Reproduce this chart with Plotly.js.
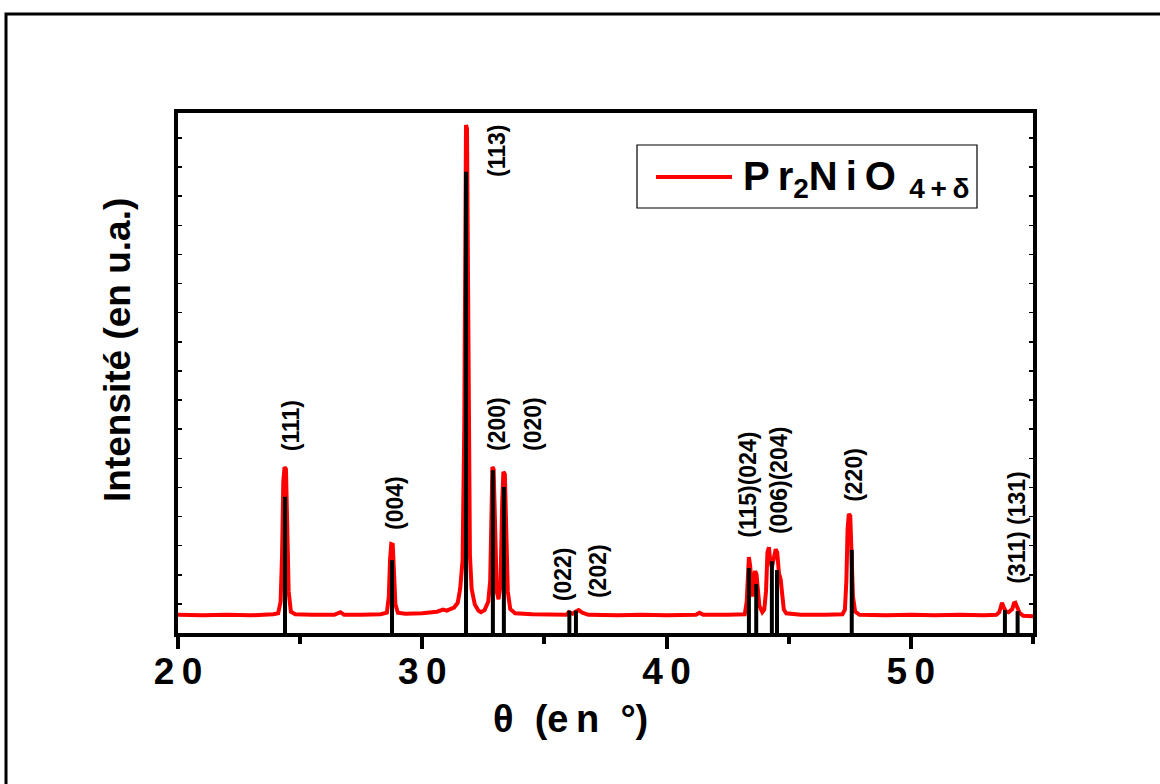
<!DOCTYPE html>
<html>
<head>
<meta charset="utf-8">
<script src="https://cdn.plot.ly/plotly-3.0.1.min.js"></script>
<style>html,body{margin:0;padding:0;background:#fff;}#chart{width:1160px;height:784px;}</style>
</head>
<body>
<div id="chart"></div>
<script>
const twoTheta = [20.0,21.0,22.0,23.0,23.9,
  24.1,24.2,24.26,24.31,24.36,24.42,24.47,24.53,24.62,24.8,
  25.5,26.4,26.65,26.8,27.5,28.3,
  28.55,28.63,28.68,28.73,28.79,28.84,28.9,29.0,29.3,
  30.0,30.6,30.85,31.0,31.3,31.45,31.55,31.65,31.72,31.76,31.79,31.83,31.86,31.9,31.95,32.02,32.15,32.3,32.4,32.55,32.7,
  32.78,32.83,32.87,32.92,32.97,33.05,33.12,33.2,33.27,33.32,33.38,33.43,33.5,33.6,33.8,
  34.5,35.5,35.9,36.0,36.15,36.3,36.4,36.55,36.8,
  38.0,39.0,40.0,41.2,41.35,41.5,42.5,43.2,
  43.28,43.33,43.37,43.42,43.48,43.52,43.58,43.63,43.68,43.73,43.8,43.92,44.0,
  44.07,44.13,44.19,44.24,44.31,44.4,44.47,44.53,44.6,44.67,44.72,44.8,44.9,
  45.5,46.5,47.2,47.3,47.36,47.41,47.46,47.52,47.57,47.63,47.72,47.9,
  49.0,50.0,51.0,52.0,53.0,53.5,
  53.62,53.68,53.73,53.8,53.88,54.0,54.15,54.22,54.28,54.35,54.45,54.6,55.0];
const intensity = [3.5,3.4,3.5,3.4,3.6,
  3.8,6.0,15.0,29.0,31.9,31.5,22.0,8.0,4.1,3.6,
  3.5,3.5,4.0,3.5,3.5,3.6,
  3.9,7.0,14.0,17.1,17.0,12.0,5.5,3.9,3.7,
  3.8,4.1,4.5,4.3,4.9,5.8,8.5,14.0,40.0,85.0,97.7,97.0,80.0,35.0,15.0,8.5,5.5,4.3,4.0,4.4,6.0,
  10.0,26.0,31.9,31.5,22.0,8.0,6.5,9.0,25.0,31.0,30.5,22.0,8.0,4.6,3.8,
  3.6,3.5,3.5,4.0,3.7,4.2,4.4,3.9,3.5,
  3.4,3.5,3.4,3.5,3.9,3.5,3.5,3.6,
  6.0,13.0,14.6,13.0,7.5,7.0,11.0,11.9,11.3,8.0,5.2,4.0,4.5,
  8.0,15.5,16.5,14.0,12.7,15.0,16.1,15.5,11.5,10.3,7.5,4.5,3.8,
  3.5,3.5,3.6,4.5,10.0,20.0,22.9,22.5,16.0,7.0,4.1,3.5,
  3.4,3.5,3.4,3.5,3.4,3.5,
  4.0,5.5,5.8,5.0,4.2,4.0,4.6,5.7,5.8,5.0,3.9,3.3,3.2];

// Reference reflections (black sticks)
const refPos    = [24.38,28.76,31.79,32.89,33.34,36.02,36.29,43.37,43.67,44.31,44.52,47.58,53.85,54.37];
const refHeight = [26.2,14.0,88.7,31.3,28.1,4.3,4.3,12.5,9.4,13.8,12.1,16.0,4.4,4.2];

// Miller index labels
const hklText = ['(111)','(004)','(113)','(200)','(020)','(022)','(202)','(115)(024)','(006)(204)','(220)','(311) (131)'];
const hklX    = [24.63,28.88,33.06,33.06,34.53,35.76,37.19,43.33,44.60,47.67,54.34];
const hklY    = [39.8,25.0,92.7,40.2,40.2,11.3,11.9,28.5,29.4,30.4,20.4];

// Axis ticks
const xTickVals = [20,30,40,50];
const xTickText = ['2\u20090','3\u20090','4\u20090','5\u20090'];

const seriesName = 'Pr<sub>2</sub>NiO<sub>4+δ</sub>';

const stickX = [], stickY = [];
refPos.forEach((p,i)=>{ stickX.push(p,p,null); stickY.push(0,refHeight[i],null); });

const FONT = 'Arial, "Liberation Sans", Helvetica, sans-serif';

const traces = [
  {x: twoTheta, y: intensity, type:'scatter', mode:'lines', name: seriesName,
   line:{color:'#ff0000', width:4}, showlegend:false, hoverinfo:'x+y'},
  {x: stickX, y: stickY, type:'scatter', mode:'lines', name:'référence',
   line:{color:'#000000', width:4}, showlegend:false, hoverinfo:'skip'}
];

const L=178, R=1033, T=113, B=633;
const px = v => (v-L)/(R-L);
const py = v => (B-v)/(B-T);

const annotations = hklText.map((t,i)=>({
  text:t, x:hklX[i], y:hklY[i], xref:'x', yref:'y', showarrow:false, textangle:-90,
  xanchor:'center', yanchor:'middle', font:{family:FONT, size:23, color:'#000', weight:'bold'}
}));
annotations.push({text:'θ  (e\u2009n  °)', x:px(570), y:py(719), xref:'paper', yref:'paper', showarrow:false,
  xanchor:'center', yanchor:'middle', font:{family:FONT, size:38, color:'#000', weight:'bold'}});
annotations.push({text:'Intensité (en u.a.)', x:px(117), y:py(350), xref:'paper', yref:'paper', showarrow:false, textangle:-90,
  xanchor:'center', yanchor:'middle', font:{family:FONT, size:37, color:'#000', weight:'bold'}});
annotations.push({text:'P\u2009r<sub>2</sub>N\u2009i\u2009O<sub>\u2009 4\u2009+\u2009δ</sub>', x:px(741), y:py(179), xref:'paper', yref:'paper', showarrow:false,
  xanchor:'left', yanchor:'middle', font:{family:FONT, size:40, color:'#000', weight:'bold'}});

const shapes = [
  {type:'rect', xref:'paper', yref:'paper', x0:px(6), x1:px(1170), y0:py(14), y1:py(800), line:{color:'#000', width:3}, fillcolor:'rgba(0,0,0,0)', layer:'below'},
  {type:'rect', xref:'paper', yref:'paper', x0:px(637), x1:px(977), y0:py(208), y1:py(145), line:{color:'#000', width:1.2}, fillcolor:'#fff'},
  {type:'line', xref:'paper', yref:'paper', x0:px(656), x1:px(732), y0:py(177), y1:py(177), line:{color:'#ff0000', width:4}}
];

const layout = {
  width:1160, height:784,
  margin:{l:L, r:1160-R, t:T, b:784-B, pad:0},
  paper_bgcolor:'#fff', plot_bgcolor:'#fff',
  font:{family:FONT, color:'#000'},
  showlegend:false,
  xaxis:{range:[20,55], showline:true, linecolor:'#000', linewidth:4, mirror:true,
    ticks:'outside', ticklen:12, tickwidth:4, tickcolor:'#000',
    tickvals:xTickVals, ticktext:xTickText, ticklabelstandoff:-9,
    tickfont:{family:FONT, size:37, color:'#000', weight:'bold'},
    minor:{tick0:20, dtick:5, ticks:'outside', ticklen:7, tickwidth:4, tickcolor:'#000', showgrid:false},
    showgrid:false, zeroline:false},
  yaxis:{range:[0,100], showline:true, linecolor:'#000', linewidth:4, mirror:'ticks',
    ticks:'inside', ticklen:4, tickwidth:1.5, tickcolor:'#000', dtick:5.6, tick0:0,
    showticklabels:false, showgrid:false, zeroline:false},
  annotations, shapes
};

Plotly.newPlot('chart', traces, layout, {displayModeBar:false, staticPlot:true});
</script>
</body>
</html>
